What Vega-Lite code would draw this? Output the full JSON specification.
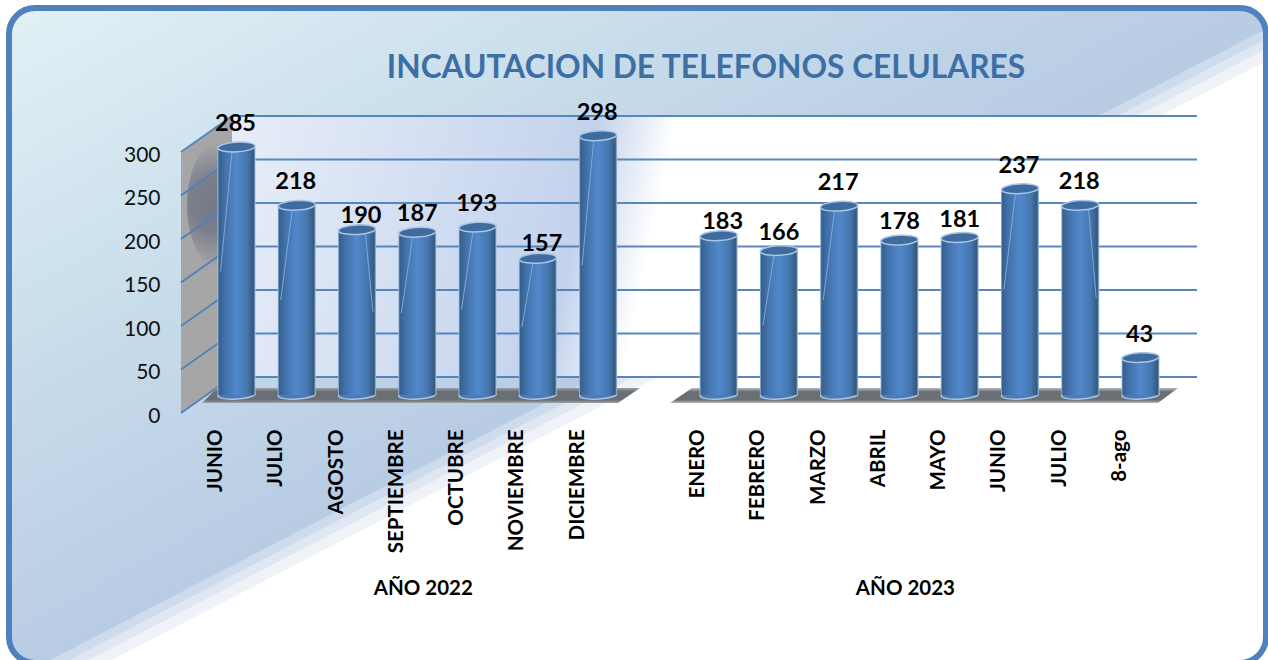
{
"$schema":"https://vega.github.io/schema/vega-lite/v6.json",
"width":1268,"height":660,"padding":0,"autosize":{"type":"none"},"background":"white",
"config":{"view":{"stroke":null},"font":"Lato"},
"title":{"text":"INCAUTACION DE TELEFONOS CELULARES","font":"Lato","fontSize":31.7,"fontWeight":"bold","color":"#3d6fa5","anchor":"middle","dx":72,"offset":-114,"baseline":"alphabetic"},
"data":{"values":[
{"mes":"2022|JUNIO","valor":285,"raya":142,"lado":"izq"},
{"mes":"2022|JULIO","valor":218,"raya":109,"lado":"izq"},
{"mes":"2022|AGOSTO","valor":190,"raya":95,"lado":"der"},
{"mes":"2022|SEPTIEMBRE","valor":187,"raya":94,"lado":"izq"},
{"mes":"2022|OCTUBRE","valor":193,"raya":98,"lado":"izq"},
{"mes":"2022|NOVIEMBRE","valor":157,"raya":78,"lado":"izq"},
{"mes":"2022|DICIEMBRE","valor":298,"raya":149,"lado":"izq"},
{"mes":"2023|ENERO","valor":183},
{"mes":"2023|FEBRERO","valor":166,"raya":80,"lado":"izq"},
{"mes":"2023|MARZO","valor":217,"raya":109,"lado":"izq"},
{"mes":"2023|ABRIL","valor":178},
{"mes":"2023|MAYO","valor":181},
{"mes":"2023b|JUNIO","valor":237,"raya":121,"lado":"izq"},
{"mes":"2023b|JULIO","valor":218,"raya":111,"lado":"der"},
{"mes":"2023|8-ago","valor":43}
]},
"layer":[
{"data":{"values":[{}]},"mark":{"type":"point","x":0,"y":0,"size":4,"opacity":1,"filled":true,"strokeWidth":0,"fill":"#eff3f8","shape":"M0,0H1268V60L0,718Z"}},
{"data":{"values":[{}]},"mark":{"type":"point","x":0,"y":0,"size":4,"opacity":1,"filled":true,"strokeWidth":0,"fill":"#dfe7f3","shape":"M0,0H1268V48L0,706Z"}},
{"data":{"values":[{}]},"mark":{"type":"point","x":0,"y":0,"size":4,"opacity":1,"filled":true,"strokeWidth":0,"fill":"#cddbed","shape":"M0,0H1268V38L0,696Z"}},
{"data":{"values":[{}]},"mark":{"type":"point","x":0,"y":0,"size":4,"opacity":1,"filled":true,"strokeWidth":0,"fill":{"gradient":"linear","x1":0,"y1":0,"x2":1,"y2":1,"stops":[{"offset":0,"color":"#e2f2f6"},{"offset":0.3,"color":"#c6dbea"},{"offset":0.5,"color":"#b8cce4"},{"offset":1,"color":"#b8cce4"}]},"shape":"M0,0H1268V28L0,686Z"}},
{"data":{"values":[{}]},"mark":{"type":"point","x":0,"y":0,"size":4,"opacity":1,"filled":true,"strokeWidth":0,"fill":{"gradient":"linear","x1":0,"y1":0,"x2":1,"y2":0.057,"stops":[{"offset":0,"color":"#e8eef9"},{"offset":0.38,"color":"#c3d2ec"},{"offset":0.46,"color":"#ffffff"},{"offset":1,"color":"#ffffff"}]},"shape":"M232,115H1197V377H232Z"}},
{"data":{"values":[{}]},"mark":{"type":"point","x":0,"y":0,"size":4,"opacity":1,"filled":true,"strokeWidth":0,"fill":"#a6a6a6","shape":"M181,153L232,115V377L181,413Z"}},
{"data":{"values":[{}]},"mark":{"type":"point","x":0,"y":0,"size":4,"opacity":1,"filled":true,"strokeWidth":0,"fill":{"gradient":"radial","x1":0.5,"y1":0.5,"r1":0,"x2":0.5,"y2":0.5,"r2":0.5,"stops":[{"offset":0,"color":"rgba(115,120,135,1)"},{"offset":0.45,"color":"rgba(115,120,135,0.85)"},{"offset":1,"color":"rgba(115,120,135,0)"}]},"shape":"M187,205A31,62 0 1 1 249,205A31,62 0 1 1 187,205Z"}},
{"data":{"values":[{"v":0},{"v":50},{"v":100},{"v":150},{"v":200},{"v":250},{"v":300}]},
 "mark":{"type":"rule","x":232,"x2":1197,"yOffset":-18,"color":"#4f81bd","strokeWidth":2.2,"opacity":0.95},
 "encoding":{"y":{"field":"v","type":"quantitative"}}},
{"data":{"values":[{"v":0},{"v":50},{"v":100},{"v":150},{"v":200},{"v":250},{"v":300}]},
 "mark":{"type":"point","x":206.5,"size":2601,"opacity":0.95,"filled":false,"stroke":"#4f81bd","strokeWidth":2,"shape":"M-1,0.706L1,-0.706"},
 "encoding":{"y":{"field":"v","type":"quantitative"}}},
{"data":{"values":[{}]},"mark":{"type":"point","x":0,"y":0,"size":4,"opacity":1,"filled":true,"strokeWidth":0,"fill":{"gradient":"linear","x1":0,"y1":0,"x2":0,"y2":1,"stops":[{"offset":0,"color":"#9a9fa5"},{"offset":0.25,"color":"#6a6f74"},{"offset":0.8,"color":"#6a6f74"},{"offset":1,"color":"#a0a5ab"}]},"shape":"M202,403L217,388H640L618,403Z"}},
{"data":{"values":[{}]},"mark":{"type":"point","x":0,"y":0,"size":4,"opacity":1,"filled":true,"strokeWidth":0,"fill":{"gradient":"linear","x1":0,"y1":0,"x2":0,"y2":1,"stops":[{"offset":0,"color":"#b9bcbf"},{"offset":0.25,"color":"#6a6f74"},{"offset":0.8,"color":"#6a6f74"},{"offset":1,"color":"#b9bcbf"}]},"shape":"M670,403L692,388H1178L1158,403Z"}},
{"data":{"values":[{"mes":"2022|JUNIO","v":0},{"mes":"2022|JULIO","v":0},{"mes":"2022|AGOSTO","v":0},{"mes":"2022|SEPTIEMBRE","v":0},{"mes":"2022|OCTUBRE","v":0},{"mes":"2022|NOVIEMBRE","v":0},{"mes":"2022|DICIEMBRE","v":0},{"mes":"2023|ENERO","v":0},{"mes":"2023|FEBRERO","v":0},{"mes":"2023|MARZO","v":0},{"mes":"2023|ABRIL","v":0},{"mes":"2023|MAYO","v":0},{"mes":"2023b|JUNIO","v":0},{"mes":"2023b|JULIO","v":0},{"mes":"2023|8-ago","v":0}]},
 "mark":{"type":"point","size":1369,"opacity":1,"filled":true,"fill":"#4a7cb8","stroke":"#a9c6e6","strokeWidth":1.5,"shape":"M-1,0.06A1,0.22 -3 1 1 1,-0.06A1,0.22 -3 1 1 -1,0.06Z"},
 "encoding":{"x":{"field":"mes","type":"ordinal"},"y":{"field":"v","type":"quantitative"}}},
{"mark":{"type":"bar","size":38,"fill":{"gradient":"linear","x1":0,"y1":0,"x2":1,"y2":0,"stops":[{"offset":0,"color":"#a9c6e6"},{"offset":0.04,"color":"#35608f"},{"offset":0.2,"color":"#4272aa"},{"offset":0.5,"color":"#5288cb"},{"offset":0.78,"color":"#4577af"},{"offset":0.95,"color":"#34597f"},{"offset":1,"color":"#a9c6e6"}]}},
 "encoding":{"x":{"field":"mes","type":"ordinal"},"y":{"field":"valor","type":"quantitative"}}},
{"transform":[{"filter":"datum.lado==='izq'"}],
 "mark":{"type":"rule","color":"#7fa8da","strokeWidth":1,"xOffset":-16,"x2Offset":-4},
 "encoding":{"x":{"field":"mes","type":"ordinal"},"x2":{"field":"mes"},"y":{"field":"raya","type":"quantitative"},"y2":{"field":"valor"}}},
{"transform":[{"filter":"datum.lado==='der'"}],
 "mark":{"type":"rule","color":"#7fa8da","strokeWidth":1,"xOffset":16,"x2Offset":8},
 "encoding":{"x":{"field":"mes","type":"ordinal"},"x2":{"field":"mes"},"y":{"field":"raya","type":"quantitative"},"y2":{"field":"valor"}}},
{"mark":{"type":"point","size":1369,"opacity":1,"filled":true,"fill":"#3f6b9f","stroke":"#a9c6e6","strokeWidth":1.5,"shape":"M-1,0.06A1,0.26 -3 1 1 1,-0.06A1,0.26 -3 1 1 -1,0.06Z"},
 "encoding":{"x":{"field":"mes","type":"ordinal"},"y":{"field":"valor","type":"quantitative"}}},
{"transform":[{"filter":"indexof([183,190,157,187,178,181,166],datum.valor)<0"}],
 "mark":{"type":"text","font":"Lato","fontWeight":"bold","fontSize":23.5,"color":"#000000","dy":-23,"dx":-1,"baseline":"middle"},
 "encoding":{"x":{"field":"mes","type":"ordinal",
   "scale":{"type":"point","padding":0,"domain":["2022|JUNIO","2022|JULIO","2022|AGOSTO","2022|SEPTIEMBRE","2022|OCTUBRE","2022|NOVIEMBRE","2022|DICIEMBRE","hueco|","2023|ENERO","2023|FEBRERO","2023|MARZO","2023|ABRIL","2023|MAYO","2023b|JUNIO","2023b|JULIO","2023|8-ago"],"range":[236.5,1140.5]},
   "axis":{"orient":"bottom","offset":-230,"zindex":1,"title":null,"domain":false,"ticks":false,"labelAngle":-90,"labelAlign":"right","labelBaseline":"middle","labelOffset":-21,"labelPadding":-1,"labelFont":"Lato","labelFontWeight":"bold","labelFontSize":20.5,"labelColor":"#000000","labelOverlap":false,"labelBound":false,"labelFlush":false,"labelLimit":300,"labelExpr":"split(datum.value,'|')[1]"}},
  "y":{"field":"valor","type":"quantitative",
   "scale":{"domain":[-304.6,454],"range":[660,0],"nice":false,"zero":false},
   "axis":{"title":null,"values":[0,50,100,150,200,250,300],"offset":-165,"zindex":1,"grid":false,"domain":false,"ticks":false,"labelOffset":21.5,"labelPadding":5,"labelFont":"Lato","labelFontSize":21,"labelColor":"#111111"}},
  "text":{"field":"valor","type":"quantitative"}}},
{"transform":[{"filter":"indexof([183,190,157],datum.valor)>=0"}],
 "mark":{"type":"text","font":"Lato","fontWeight":"bold","fontSize":23.5,"color":"#000000","dy":-14,"dx":4,"baseline":"middle"},
 "encoding":{"x":{"field":"mes","type":"ordinal"},"y":{"field":"valor","type":"quantitative"},"text":{"field":"valor","type":"quantitative"}}},
{"transform":[{"filter":"indexof([187,178,181,166],datum.valor)>=0"}],
 "mark":{"type":"text","font":"Lato","fontWeight":"bold","fontSize":23.5,"color":"#000000","dy":-18,"dx":0,"baseline":"middle"},
 "encoding":{"x":{"field":"mes","type":"ordinal"},"y":{"field":"valor","type":"quantitative"},"text":{"field":"valor","type":"quantitative"}}},
{"data":{"values":[{"mes":"2022|SEPTIEMBRE","grupo":"AÑO 2022"},{"mes":"2023|ABRIL","grupo":"AÑO 2023"}]},
 "mark":{"type":"text","font":"Lato","fontWeight":"bold","fontSize":20.5,"color":"#000000","y":589,"dx":6,"baseline":"middle"},
 "encoding":{"x":{"field":"mes","type":"ordinal"},"text":{"field":"grupo"}}},
{"data":{"values":[{}]},"mark":{"type":"point","x":0,"y":0,"size":4,"opacity":1,"filled":true,"strokeWidth":0,"fill":"#ffffff","shape":"M0,0V670H1268V0ZM9,34A26,26 0 0 1 35,8H1240A26,26 0 0 1 1266,34V637A26,26 0 0 1 1240,663H35A26,26 0 0 1 9,637Z"}},
{"data":{"values":[{}]},"mark":{"type":"point","x":0,"y":0,"size":4,"opacity":1,"filled":false,"stroke":"#4f81bd","strokeWidth":6,"shape":"M9,34A26,26 0 0 1 35,8H1240A26,26 0 0 1 1266,34V637A26,26 0 0 1 1240,663H35A26,26 0 0 1 9,637Z"}}
]
}
